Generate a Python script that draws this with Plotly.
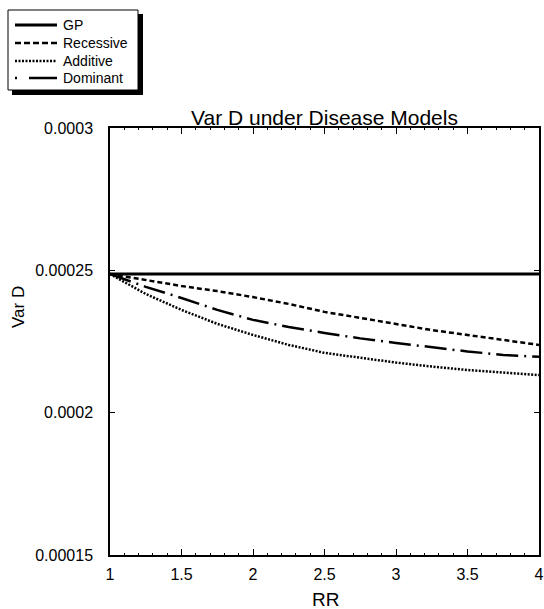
import plotly.graph_objects as go

rr = [1, 1.25, 1.5, 1.75, 2, 2.25, 2.5, 2.75, 3, 3.25, 3.5, 3.75, 4]
gp = [0.0002487] * 13
recessive = [0.0002487, 0.0002466, 0.0002445, 0.0002427, 0.0002406, 0.0002382, 0.0002354,
             0.0002333, 0.0002312, 0.0002290, 0.0002273, 0.0002255, 0.0002238]
additive = [0.0002487, 0.0002417, 0.0002361, 0.0002312, 0.0002273, 0.0002238, 0.0002210,
            0.0002192, 0.0002176, 0.0002162, 0.0002150, 0.0002141, 0.0002132]
dominant = [0.0002487, 0.0002442, 0.0002403, 0.0002361, 0.0002326, 0.0002301, 0.0002280,
            0.0002261, 0.0002245, 0.0002229, 0.0002215, 0.0002203, 0.0002196]

series_names = ["GP", "Recessive", "Additive", "Dominant"]
x_ticks = [1, 1.5, 2, 2.5, 3, 3.5, 4]
x_tick_labels = ["1", "1.5", "2", "2.5", "3", "3.5", "4"]
y_ticks = [0.00015, 0.0002, 0.00025, 0.0003]
y_tick_labels = ["0.00015", "0.0002", "0.00025", "0.0003"]

FONT = "Liberation Sans, Arial, Helvetica, sans-serif"

styles = [
    dict(color="black", width=3),
    dict(color="black", width=2.5, dash="5px,3px"),
    dict(color="black", width=2.5, dash="2px,1.5px"),
    dict(color="black", width=2.5, dash="22px,6px,2px,6px"),
]
legend_styles = [
    dict(color="black", width=3),
    dict(color="black", width=2.5, dash="6px,3px"),
    dict(color="black", width=2.5, dash="2px,1.5px"),
    dict(color="black", width=2.5, dash="2px,12px,28px,4px"),
]

fig = go.Figure()
for name, ys, st in zip(series_names, [gp, recessive, additive, dominant], styles):
    fig.add_trace(go.Scatter(x=rr, y=ys, name=name, mode="lines", line=st, showlegend=False))

W, H = 544, 609
L, R, T, B = 110, 539, 128, 555
pw, ph = R - L, B - T


def px(xp):
    return (xp - L) / pw


def py(yp):
    return (B - yp) / ph


# legend shadow and box
fig.add_shape(type="rect", xref="paper", yref="paper",
              x0=px(12), x1=px(143), y0=py(95), y1=py(14),
              fillcolor="black", line=dict(width=0), layer="above")
fig.add_shape(type="rect", xref="paper", yref="paper",
              x0=px(8), x1=px(138), y0=py(90), y1=py(10),
              fillcolor="white", line=dict(color="black", width=1), layer="above")
row_y = [25, 43, 61, 78]
for name, st, ry in zip(series_names, legend_styles, row_y):
    fig.add_shape(type="line", xref="paper", yref="paper",
                  x0=px(15), x1=px(57), y0=py(ry), y1=py(ry), line=st, layer="above")
    fig.add_annotation(text=name, xref="paper", yref="paper", x=px(61), y=py(ry),
                       xanchor="left", yanchor="middle", showarrow=False,
                       font=dict(size=14, family=FONT, color="black"))

# axis titles
fig.add_annotation(text="RR", xref="paper", yref="paper", x=px(325), y=py(599),
                   xanchor="center", yanchor="middle", showarrow=False,
                   font=dict(size=19, family=FONT, color="black"))
fig.add_annotation(text="Var D", xref="paper", yref="paper", x=px(18), y=py(307),
                   xanchor="center", yanchor="middle", showarrow=False, textangle=-90,
                   font=dict(size=17, family=FONT, color="black"))

fig.update_layout(
    width=W, height=H,
    margin=dict(l=L, r=W - R, t=T, b=H - B, autoexpand=False),
    paper_bgcolor="white", plot_bgcolor="white",
    font=dict(family=FONT, color="black", size=16),
    title=dict(text="Var D under Disease Models", x=(L + R) / 2 / W, xanchor="center",
               y=1 - 118 / H, yanchor="middle", yref="container",
               font=dict(size=21, family=FONT, color="black")),
    showlegend=False,
)

fig.update_xaxes(range=[1, 4], tickmode="array", tickvals=x_ticks, ticktext=x_tick_labels,
                 ticks="inside", ticklen=6, tickwidth=1, tickcolor="black",
                 showline=True, linecolor="black", linewidth=1.5, mirror="ticks",
                 showgrid=False, zeroline=False, automargin=False,
                 minor=dict(ticks="inside", ticklen=2, dtick=0.1, tick0=1, tickcolor="black", showgrid=False),
                 tickfont=dict(size=16, family=FONT), ticklabelstandoff=4)
fig.update_yaxes(range=[0.00015, 0.0003], tickmode="array", tickvals=y_ticks, ticktext=y_tick_labels,
                 ticks="inside", ticklen=5, tickwidth=1, tickcolor="black",
                 showline=True, linecolor="black", linewidth=1.5, mirror="ticks",
                 showgrid=False, zeroline=False, automargin=False,
                 tickfont=dict(size=16, family=FONT), ticklabelstandoff=12)

fig.write_html("out.html", config={"displayModeBar": False},
               post_script="document.body.style.margin='0';document.body.style.padding='0';")
